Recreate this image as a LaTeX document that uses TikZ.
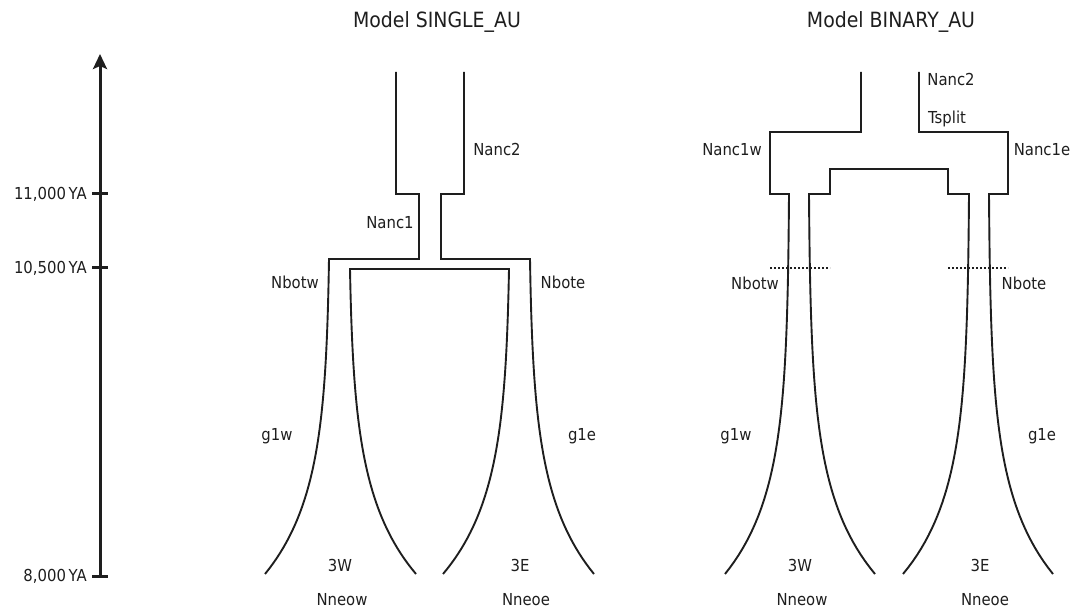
\documentclass[tikz,border=0pt]{standalone}
\usepackage{fontspec}
\setmainfont{DejaVu Sans}[FakeStretch=0.9]
\usepackage{tikz}
\usetikzlibrary{arrows.meta}
\usepackage{xcolor}
\definecolor{Ink}{HTML}{1E1E1E}

\begin{document}
\begin{tikzpicture}[x=1pt,y=-1pt,
  declare function={fall(\t,\a)=(exp((\t-\a)/80)-1)/(exp((574-\a)/80)-1);},
  lbl/.style={font=\fontsize{16.5}{18}\selectfont,text=Ink,inner sep=0pt},
  ttl/.style={font=\fontsize{21}{24}\selectfont,text=Ink,inner sep=0pt},
  pop/.style={Ink,line width=1.9pt,line join=miter},
  axis/.style={Ink,line width=3pt}]
\useasboundingbox (0,0) rectangle (1077,612);
% time axis
\draw[axis,-{Stealth[length=15pt,width=14pt,inset=3pt]}] (100,577) -- (100,54);
\draw[axis] (92,194) -- (108,194);
\draw[axis] (92,268) -- (108,268);
\draw[axis] (92,576) -- (108,576);
\node[lbl,anchor=east] (t11000) at (87,194) {11,000\,YA};
\node[lbl,anchor=east] (t10500) at (87,268) {10,500\,YA};
\node[lbl,anchor=east] (t8000) at (87,576) {8,000\,YA};
% model SINGLE_AU
\node[ttl] (titleS) at (437,22) {Model SINGLE\_AU};
\draw[pop] (396,72) -- (396,194) -- (419,194) -- (419,259) -- (329,259)
  -- plot[domain=259:574,samples=60] ({329-64*fall(\x,259)},\x);
\draw[pop] (464,72) -- (464,194) -- (441,194) -- (441,259) -- (530,259)
  -- plot[domain=259:574,samples=60] ({530+64*fall(\x,259)},\x);
\draw[pop] plot[domain=574:269,samples=60] ({350+66*fall(\x,269)},\x)
  -- (509,269) -- plot[domain=269:574,samples=60] ({509-66*fall(\x,269)},\x);
\node[lbl] (sNanc2) at (497,149) {Nanc2};
\node[lbl] (sNanc1) at (390,223) {Nanc1};
\node[lbl] (sNbotw) at (295,282) {Nbotw};
\node[lbl] (sNbote) at (563,282) {Nbote};
\node[lbl] (sG1w) at (277,436) {g1w};
\node[lbl] (sG1e) at (582,436) {g1e};
\node[lbl] (s3W) at (340,565) {3W};
\node[lbl] (s3E) at (520,565) {3E};
\node[lbl] (sNneow) at (342,600) {Nneow};
\node[lbl] (sNneoe) at (526,600) {Nneoe};
% model BINARY_AU
\node[ttl] (titleB) at (891,22) {Model BINARY\_AU};
\draw[pop] (861,72) -- (861,132) -- (770,132) -- (770,194) -- (789,194)
  -- plot[domain=194:574,samples=60] ({789-64*fall(\x,194)},\x);
\draw[pop] (919,72) -- (919,132) -- (1008,132) -- (1008,194) -- (989,194)
  -- plot[domain=194:574,samples=60] ({989+64*fall(\x,194)},\x);
\draw[pop] plot[domain=574:194,samples=60] ({809+66*fall(\x,194)},\x)
  -- (830,194) -- (830,169) -- (948,169) -- (948,194) -- (969,194)
  -- plot[domain=194:574,samples=60] ({969-66*fall(\x,194)},\x);
\draw[Ink,line width=1.6pt,dash pattern=on 1.6pt off 2.4pt] (770,268) -- (830,268);
\draw[Ink,line width=1.6pt,dash pattern=on 1.6pt off 2.4pt] (948,268) -- (1008,268);
\node[lbl] (bNanc2) at (951,79) {Nanc2};
\node[lbl] (bTsplit) at (947,119) {Tsplit};
\node[lbl] (bNanc1w) at (732,150) {Nanc1w};
\node[lbl] (bNanc1e) at (1042,150) {Nanc1e};
\node[lbl] (bNbotw) at (755,283) {Nbotw};
\node[lbl] (bNbote) at (1024,283) {Nbote};
\node[lbl] (bG1w) at (736,436) {g1w};
\node[lbl] (bG1e) at (1042,436) {g1e};
\node[lbl] (b3W) at (800,565) {3W};
\node[lbl] (b3E) at (980,565) {3E};
\node[lbl] (bNneow) at (802,600) {Nneow};
\node[lbl] (bNneoe) at (985,600) {Nneoe};
\end{tikzpicture}
\end{document}
